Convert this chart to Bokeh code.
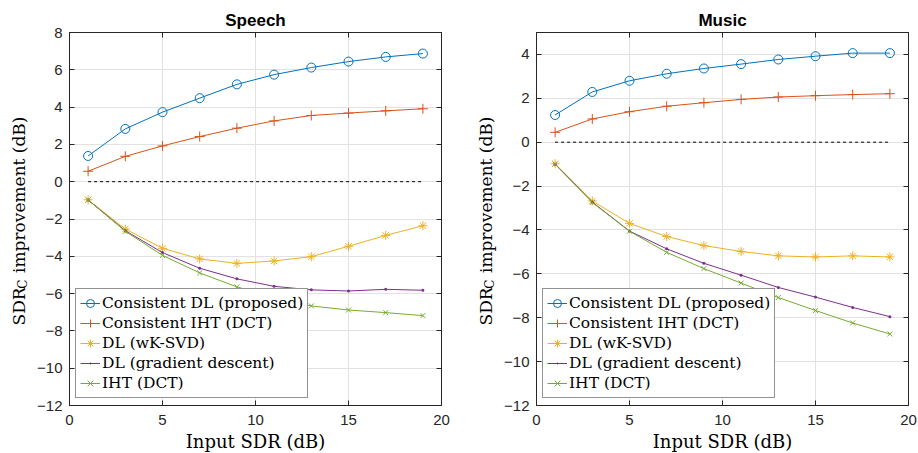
import numpy as np
from bokeh.plotting import figure
from bokeh.models import Range1d, LinearAxis, FixedTicker, Legend, LegendItem, Label
from bokeh.layouts import row
from bokeh.embed import file_html
from bokeh.resources import INLINE

# ---------------- data ----------------
input_sdr = [1, 3, 5, 7, 9, 11, 13, 15, 17, 19]

speech_cdl = [1.38, 2.83, 3.73, 4.48, 5.22, 5.74, 6.12, 6.44, 6.69, 6.87]
speech_ciht = [0.56, 1.36, 1.92, 2.42, 2.87, 3.26, 3.55, 3.68, 3.80, 3.91]
speech_wksvd = [-0.97, -2.54, -3.57, -4.14, -4.38, -4.25, -4.02, -3.46, -2.88, -2.36]
speech_gd = [-0.98, -2.63, -3.80, -4.64, -5.21, -5.61, -5.80, -5.86, -5.77, -5.82]
speech_iht = [-0.98, -2.66, -3.95, -4.89, -5.64, -6.22, -6.66, -6.88, -7.02, -7.18]

music_cdl = [1.24, 2.29, 2.80, 3.12, 3.36, 3.56, 3.77, 3.92, 4.06, 4.06]
music_ciht = [0.45, 1.06, 1.39, 1.64, 1.80, 1.95, 2.06, 2.12, 2.17, 2.21]
music_wksvd = [-0.98, -2.68, -3.70, -4.30, -4.71, -4.98, -5.18, -5.23, -5.18, -5.23]
music_gd = [-1.00, -2.73, -4.05, -4.86, -5.52, -6.06, -6.62, -7.06, -7.53, -7.95]
music_iht = [-1.00, -2.75, -4.06, -5.02, -5.76, -6.42, -7.08, -7.67, -8.24, -8.74]

zero_x = [1, 19]
zero_y = [0, 0]

series_names = ["Consistent DL (proposed)", "Consistent IHT (DCT)", "DL (wK-SVD)",
                "DL (gradient descent)", "IHT (DCT)"]
series_colors = ["#0072BD", "#D95319", "#EDB120", "#7E2F8E", "#77AC30"]
series_markers = ["circle", "cross", "asterisk", "dot", "x"]
series_sizes = [9, 10, 9, 12, 7]

x_ticks = [0, 5, 10, 15, 20]
speech_y_ticks = [-12, -10, -8, -6, -4, -2, 0, 2, 4, 6, 8]
music_y_ticks = [-12, -10, -8, -6, -4, -2, 0, 2, 4]

x_label = "Input SDR (dB)"
y_label_main = "SDR\u2002\u2005\u200aimprovement (dB)"
y_label_sub = "C"

AX = "#262626"
SERIF = "DejaVu Serif"
SANS = "Liberation Sans"

FRAME_W = 374
FRAME_H = 373
BORDER_TOP = 32
BORDER_BOTTOM = 48


def make_fig(title, ys, y_start, y_end, y_ticks, min_left, min_right, width):
    p = figure(width=width, height=BORDER_TOP + FRAME_H + BORDER_BOTTOM,
               x_range=Range1d(0, 20),
               y_range=Range1d(y_start, y_end), output_backend="svg",
               toolbar_location=None, title=title,
               min_border_left=min_left, min_border_right=min_right,
               min_border_top=BORDER_TOP, min_border_bottom=BORDER_BOTTOM)
    p.title.align = "center"
    p.title.text_font = SANS
    p.title.text_font_size = "17px"
    p.title.text_font_style = "bold"
    p.title.text_color = "#000000"
    p.title.standoff = 6

    p.outline_line_color = AX
    p.outline_line_width = 1
    p.background_fill_color = "white"
    p.border_fill_color = "white"

    p.xaxis.ticker = FixedTicker(ticks=x_ticks)
    p.yaxis.ticker = FixedTicker(ticks=y_ticks)
    for ax in (p.xaxis, p.yaxis):
        ax.axis_line_color = AX
        ax.major_tick_line_color = AX
        ax.major_tick_in = 5
        ax.major_tick_out = 0
        ax.minor_tick_line_color = None
        ax.major_label_text_font = SANS
        ax.major_label_text_font_size = "15px"
        ax.major_label_text_color = AX
    p.xaxis.major_label_standoff = 9
    p.yaxis.major_label_standoff = 7

    # box ticks on top and right (no labels)
    rax = LinearAxis(ticker=FixedTicker(ticks=y_ticks), major_label_text_font_size="0px",
                     major_label_text_color=None,
                     major_tick_in=5, major_tick_out=0, minor_tick_line_color=None,
                     axis_line_color=AX, major_tick_line_color=AX, major_label_standoff=0)
    p.add_layout(rax, "right")
    tax = LinearAxis(ticker=FixedTicker(ticks=x_ticks), major_label_text_font_size="0px",
                     major_label_text_color=None,
                     major_tick_in=5, major_tick_out=0, minor_tick_line_color=None,
                     axis_line_color=AX, major_tick_line_color=AX, major_label_standoff=0)
    p.add_layout(tax, "above")

    p.grid.grid_line_color = "#e2e2e2"
    p.grid.grid_line_width = 1

    p.line(zero_x, zero_y, line_color="#000000", line_width=1, line_dash="3 3")

    items = []
    for name, yv, col, mk, sz in zip(series_names, ys, series_colors,
                                      series_markers, series_sizes):
        l = p.line(input_sdr, yv, line_color=col, line_width=1)
        s = p.scatter(input_sdr, yv, marker=mk, size=sz, line_color=col,
                      fill_color=col if mk == "dot" else None, line_width=1)
        items.append(LegendItem(label=name, renderers=[l, s]))

    leg = Legend(items=items, location=(6, 7), label_text_font=SERIF,
                 label_text_font_size="15.5px", label_text_color="#000000",
                 border_line_color=AX, border_line_width=1, padding=4, spacing=0,
                 margin=0, glyph_width=20, glyph_height=20, label_height=20,
                 label_standoff=2, background_fill_color="white",
                 background_fill_alpha=1.0)
    p.add_layout(leg)

    # axis labels as Labels in side panels (anchored in data space, offsets in px)
    px_x = FRAME_W / 20.0
    px_y = FRAME_H / float(y_end - y_start)
    ax_x = -50.5 / px_x
    ax_y = y_start + 80.0 / px_y
    common = dict(x=ax_x, y=ax_y, angle=np.pi / 2, text_font=SERIF,
                  text_align="left", text_baseline="alphabetic", text_color="#000000")
    p.add_layout(Label(text=y_label_main, text_font_size="17px", **common), "left")
    p.add_layout(Label(text=y_label_sub, text_font_size="12px", x_offset=3.5,
                       y_offset=36.8, **common), "left")

    p.add_layout(Label(x=10, y=y_start - 36.0 / px_y, text=x_label, text_font=SERIF,
                       text_font_size="18px", text_align="center",
                       text_baseline="alphabetic", text_color="#000000"), "below")
    return p


p1 = make_fig("Speech", [speech_cdl, speech_ciht, speech_wksvd, speech_gd, speech_iht],
              -12, 8, speech_y_ticks, 67, 26, 467)
p2 = make_fig("Music", [music_cdl, music_ciht, music_wksvd, music_gd, music_iht],
              -12, 5, music_y_ticks, 67, 10, 451)

layout = row(p1, p2)
open("out.html", "w").write(file_html(layout, INLINE))
